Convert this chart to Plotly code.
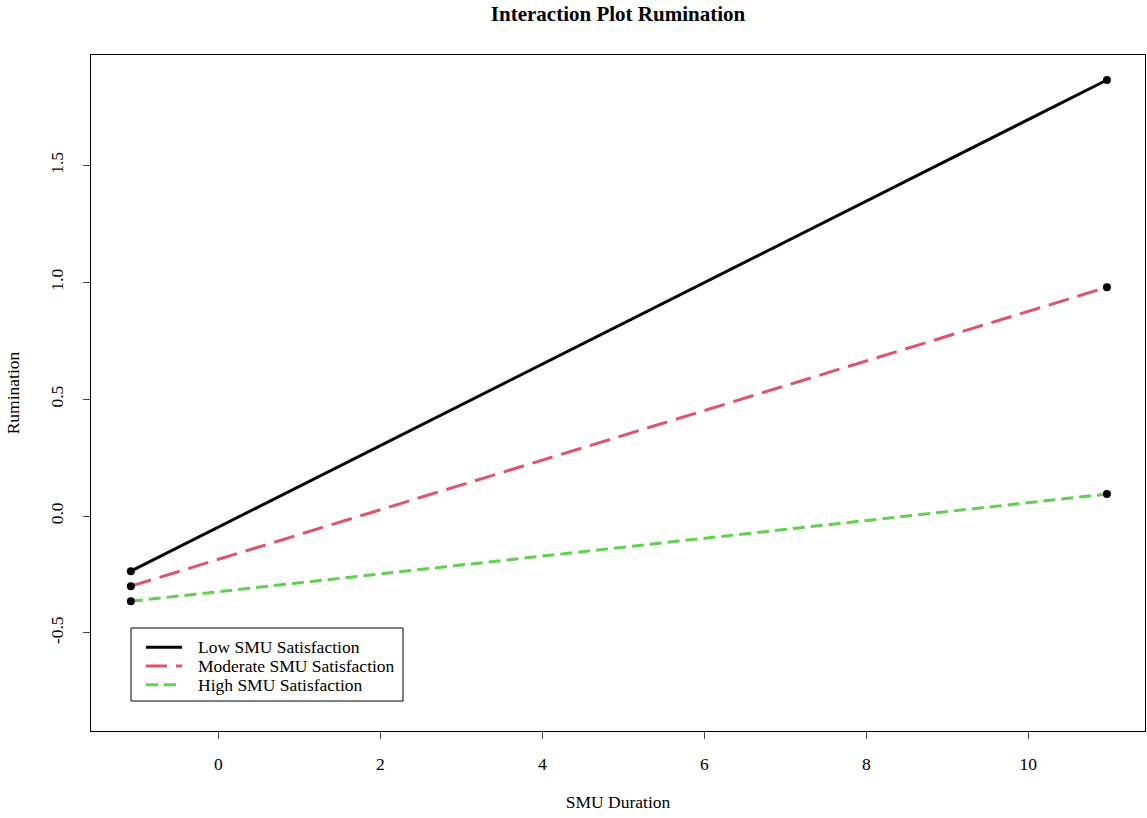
import plotly.graph_objects as go

series_names = ["Low SMU Satisfaction", "Moderate SMU Satisfaction", "High SMU Satisfaction"]
duration = [-1.08, 10.97]
low_vals = [-0.236, 1.866]
mod_vals = [-0.300, 0.979]
high_vals = [-0.365, 0.094]
colors = ["#000000", "#DF536B", "#61D04F"]
dashes = ["solid", "21px,9px", "12px,6px"]
x_ticks = [0, 2, 4, 6, 8, 10]
y_ticks = [-0.5, 0.0, 0.5, 1.0, 1.5]
y_tick_text = ["-0.5", "0.0", "0.5", "1.0", "1.5"]

FONT = "Liberation Serif"
W, H = 1147, 818
L, R, T, B = 91, 2, 55, 87
PW, PH = W - L - R, H - T - B


def px(xp):
    return (xp - L) / PW


def py(yp):
    return (H - B - yp) / PH


fig = go.Figure()
for name, vals, col, dash in zip(series_names, [low_vals, mod_vals, high_vals], colors, dashes):
    fig.add_trace(go.Scatter(
        x=duration, y=vals, mode="lines", name=name, showlegend=False,
        line=dict(color=col, width=3, dash=dash),
    ))
for vals in [low_vals, mod_vals, high_vals]:
    fig.add_trace(go.Scatter(
        x=duration, y=vals, mode="markers", showlegend=False,
        marker=dict(color="black", size=8),
    ))

# manual R-style legend
shapes = [dict(type="rect", xref="paper", yref="paper",
               x0=px(131), x1=px(403), y0=py(628), y1=py(701),
               line=dict(color="black", width=1), fillcolor="white", layer="above")]
annotations = []
row_y = [647.3, 666, 684.7]
for name, col, dash, ry in zip(series_names, colors, dashes, row_y):
    shapes.append(dict(type="line", xref="paper", yref="paper",
                       x0=px(146), x1=px(182), y0=py(ry), y1=py(ry),
                       line=dict(color=col, width=3, dash=dash), layer="above"))
    annotations.append(dict(text=name, xref="paper", yref="paper", x=px(196), y=py(ry),
                            xanchor="left", yanchor="middle", showarrow=False,
                            font=dict(family=FONT, size=17.5, color="black")))

fig.update_layout(
    width=W, height=H,
    margin=dict(l=L, r=R, t=T, b=B, autoexpand=False),
    paper_bgcolor="white", plot_bgcolor="white",
    font=dict(family=FONT, size=17.5, color="black"),
    title=dict(text="<b>Interaction Plot Rumination</b>", x=618 / W, xanchor="center",
               y=1 - 14 / H, yanchor="middle", automargin=False,
               font=dict(family=FONT, size=21, color="black")),
    showlegend=False,
    shapes=shapes,
    annotations=annotations,
    xaxis=dict(range=[-1.572, 11.44], tickvals=x_ticks, ticks="outside", ticklen=7,
               showline=True, linecolor="black", linewidth=1, mirror=True, automargin=False,
               showgrid=False, zeroline=False, tickfont=dict(family=FONT, size=17.5),
               ticklabelstandoff=10,
               title=dict(text="SMU Duration", font=dict(family=FONT, size=17.5), standoff=22)),
    yaxis=dict(range=[-0.92, 1.973], tickvals=y_ticks, ticktext=y_tick_text, ticks="outside", ticklen=7,
               tickangle=-90, automargin=False,
               showline=True, linecolor="black", linewidth=1, mirror=True,
               showgrid=False, zeroline=False, tickfont=dict(family=FONT, size=17.5),
               ticklabelstandoff=13,
               title=dict(text="Rumination", font=dict(family=FONT, size=17.5), standoff=22)),
)

fig.write_html("out.html", config={"displayModeBar": False},
               post_script="document.body.style.margin='0';document.body.style.overflow='hidden';")
